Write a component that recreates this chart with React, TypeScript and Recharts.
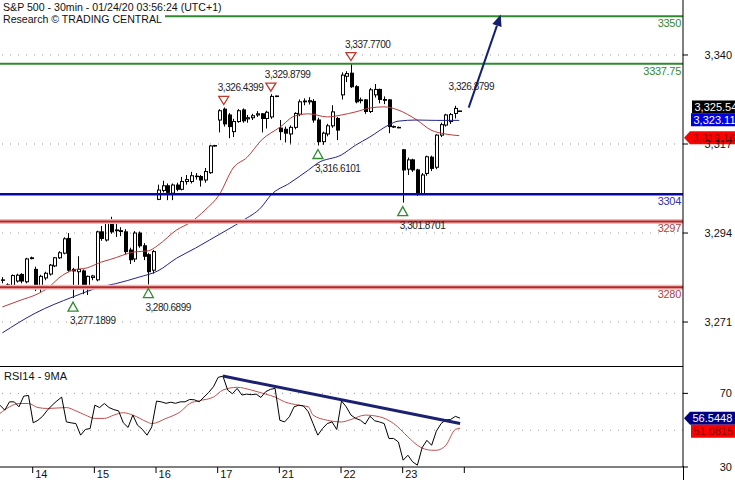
import React from 'react';
import { ComposedChart, Bar, Line, XAxis, YAxis, ReferenceLine, ReferenceDot } from 'recharts';

const FONT = '"Liberation Sans", Arial, sans-serif';

// 30 min candles, 13 Jan (partial) to 23 Jan
const opens = [
  3281.8, 3280.6, 3280.2, 3281.6, 3283.3, 3281.4, 3287.4,
  3284.6, 3279.7, 3282.4, 3283.4, 3285.5, 3287.6, 3288.8, 3292.6, 3284.6, 3284.0, 3284.2, 3280.2, 3282.5,
  3281.9, 3294.3, 3292.2, 3296.9, 3294.8, 3294.6, 3294.3, 3289.6, 3287.3, 3294.0, 3290.7, 3288.4, 3284.4,
  3302.7, 3305.0, 3306.2, 3304.3, 3306.4, 3305.3, 3307.3, 3307.3, 3308.6, 3308.6, 3307.7, 3309.6, 3316.5,
  3323.2, 3326.0, 3324.5, 3320.2, 3322.8, 3325.8, 3323.5, 3323.8, 3324.5, 3324.8, 3323.6, 3324.0, 3329.3,
  3321.1, 3320.8, 3319.6, 3321.3, 3324.7, 3327.9, 3327.9, 3328.0, 3323.2, 3317.6, 3319.6, 3321.7, 3323.6,
  3329.7, 3334.5, 3335.3, 3331.8, 3328.2, 3328.4, 3325.4, 3329.7, 3331.1, 3328.5, 3328.4, 3321.5, 3321.3,
  3315.5, 3310.5, 3312.9, 3310.3, 3304.1, 3309.4, 3313.6, 3311.0, 3319.3, 3321.9, 3322.8, 3324.9, 3325.5,
];
const highs = [
  3282.6, 3281.0, 3283.3, 3283.5, 3283.6, 3287.6, 3287.9,
  3285.3, 3283.2, 3284.0, 3286.0, 3287.8, 3289.3, 3292.9, 3294.0, 3285.0, 3288.0, 3284.6, 3283.0, 3283.2,
  3294.6, 3295.8, 3297.0, 3298.2, 3296.5, 3295.5, 3295.0, 3290.2, 3294.5, 3294.4, 3291.4, 3288.8, 3289.6,
  3306.5, 3307.5, 3306.8, 3306.8, 3307.0, 3308.5, 3309.0, 3309.8, 3309.5, 3309.0, 3310.8, 3316.7, 3316.8,
  3326.0, 3326.4399, 3325.0, 3323.5, 3326.0, 3326.2, 3324.5, 3324.8, 3325.5, 3325.0, 3325.6, 3329.8799, 3329.5,
  3323.2, 3321.5, 3321.8, 3325.2, 3328.5, 3328.8, 3329.1, 3328.6, 3323.8, 3320.2, 3322.2, 3327.0, 3324.0,
  3335.5, 3335.8, 3337.77, 3332.2, 3329.0, 3328.6, 3331.5, 3332.5, 3331.3, 3329.3, 3328.6, 3321.8, 3321.5,
  3315.7, 3313.5, 3313.2, 3310.6, 3309.5, 3314.0, 3314.0, 3319.5, 3322.5, 3324.8, 3325.0, 3326.8799, 3325.6,
];
const lows = [
  3281.0, 3279.7, 3279.8, 3281.2, 3281.0, 3281.0, 3287.2,
  3279.0, 3278.8, 3281.8, 3283.0, 3285.2, 3287.3, 3288.5, 3284.0, 3277.1899, 3280.5, 3278.2, 3278.0, 3281.8,
  3281.5, 3292.0, 3291.8, 3293.8, 3293.0, 3293.2, 3288.5, 3286.0, 3286.5, 3290.2, 3287.0, 3280.6899, 3283.5,
  3302.5, 3304.5, 3302.5, 3302.5, 3304.8, 3305.0, 3306.5, 3306.8, 3307.8, 3306.0, 3307.0, 3309.3, 3316.3,
  3320.0, 3321.5, 3318.5, 3318.8, 3322.5, 3322.5, 3322.5, 3323.2, 3324.0, 3320.0, 3321.0, 3323.5, 3329.1,
  3318.0, 3317.4, 3316.9, 3320.8, 3324.2, 3327.0, 3327.2, 3322.5, 3316.6101, 3316.8, 3319.0, 3321.2, 3318.0,
  3328.5, 3333.0, 3331.5, 3327.5, 3327.5, 3324.8, 3325.0, 3329.0, 3327.5, 3327.3, 3319.8, 3321.2, 3321.1,
  3301.8701, 3309.0, 3309.8, 3303.6, 3303.8, 3308.8, 3310.0, 3310.5, 3318.8, 3321.5, 3322.2, 3323.6, 3325.4,
];
const closes = [
  3281.9, 3280.0, 3283.0, 3283.1, 3281.6, 3287.3, 3287.6,
  3279.7, 3282.8, 3283.6, 3285.7, 3287.6, 3288.9, 3292.5, 3284.4, 3284.2, 3284.6, 3280.0, 3282.8, 3282.9,
  3294.3, 3292.6, 3296.5, 3294.3, 3294.6, 3294.4, 3289.2, 3287.1, 3294.0, 3290.7, 3288.0, 3284.0, 3289.2,
  3305.1, 3306.2, 3304.5, 3306.4, 3305.3, 3307.3, 3307.8, 3308.8, 3308.7, 3307.7, 3309.9, 3316.5, 3316.6,
  3325.6, 3322.2, 3321.5, 3322.8, 3325.6, 3323.0, 3323.8, 3324.3, 3324.8, 3323.6, 3325.2, 3329.3, 3329.4,
  3320.2, 3319.8, 3321.3, 3324.9, 3327.9, 3328.1, 3328.2, 3323.2, 3317.6, 3319.8, 3321.7, 3325.3, 3320.6,
  3334.8, 3335.2, 3331.8, 3327.9, 3328.4, 3325.4, 3331.0, 3331.1, 3328.5, 3328.3, 3321.5, 3321.4, 3321.3,
  3310.3, 3312.9, 3310.3, 3304.1, 3309.0, 3313.7, 3310.7, 3319.3, 3322.0, 3324.5, 3324.6, 3326.2, 3325.54,
];

// moving averages at sample bars
const redMaIdx = [0, 4, 7, 10, 12, 15, 18, 21, 23, 28, 31, 33, 37, 40, 43, 46, 49, 52, 55, 59, 62, 65, 69, 72, 75, 78, 81, 84, 88, 91, 94, 97];
const redMaVals = [3274.9, 3276.7, 3278.0, 3280.1, 3282.4, 3284.4, 3285.0, 3286.5, 3287.2, 3289.1, 3289.4, 3290.8, 3294.8, 3296.8, 3299.9, 3303.8, 3310.8, 3313.6, 3318.0, 3321.4, 3324.2, 3324.8, 3324.0, 3324.5, 3325.3, 3326.3, 3326.6, 3325.8, 3323.2, 3320.6, 3319.6, 3319.16];
const blueMaIdx = [0, 7, 15, 21, 24, 29, 33, 37, 41, 44, 48, 51, 55, 57, 61, 65, 67, 72, 75, 78, 82, 84, 88, 92, 97];
const blueMaVals = [3268.2, 3273.3, 3277.5, 3280.1, 3280.9, 3282.6, 3284.2, 3287.5, 3290.1, 3292.2, 3295.0, 3297.2, 3300.7, 3303.8, 3306.9, 3310.3, 3312.1, 3314.2, 3316.7, 3318.8, 3321.9, 3322.9, 3323.2, 3323.1, 3323.11];

const rsiVals = [
  63.6, 60.9, 65.4, 65.4, 62.7, 68.5, 68.9,
  54.0, 55.4, 57.6, 60.9, 63.6, 65.9, 68.0, 54.5, 54.0, 53.6, 47.3, 50.4, 50.9,
  63.6, 62.3, 64.5, 62.3, 61.2, 60.5, 54.0, 51.5, 58.2, 52.7, 50.5, 47.3, 51.8,
  65.8, 65.4, 64.6, 65.2, 64.6, 65.4, 65.4, 66.7, 66.5, 65.4, 68.0, 70.5, 73.6,
  78.7, 79.4, 71.8, 69.8, 72.7, 69.1, 69.6, 69.3, 69.6, 67.8, 70.9, 72.2, 72.7,
  55.4, 54.5, 57.3, 62.7, 63.6, 63.1, 60.0, 53.6, 47.3, 50.9, 53.6, 54.5, 50.4,
  65.9, 62.7, 58.2, 56.4, 55.4, 53.3, 57.6, 55.1, 54.5, 53.6, 45.5, 45.5, 43.6,
  33.7, 36.4, 32.8, 31.0, 40.5, 44.5, 41.8, 49.5, 53.6, 55.6, 55.8, 57.5, 56.5448,
];
const rsiMaIdx = [0, 2, 4, 6, 8, 10, 14, 16, 18, 20, 22, 24, 26, 28, 31, 32, 35, 38, 40, 42, 45, 47, 50, 53, 56, 58, 60, 63, 65, 66, 69, 72, 74, 77, 80, 83, 86, 88, 91, 92, 94, 96, 97];
const rsiMaVals = [59.1, 62.7, 64.5, 64.5, 62.3, 61.8, 62.3, 60.5, 58.2, 56.4, 56.4, 58.2, 59.5, 58.2, 54.5, 53.6, 56.4, 60.0, 64.5, 66.0, 68.0, 71.8, 73.3, 71.8, 69.6, 68.0, 65.4, 63.6, 62.7, 58.2, 55.4, 54.5, 55.8, 58.2, 57.3, 53.6, 46.4, 41.8, 39.1, 39.1, 41.8, 50.4, 51.0815];

const lowMarkIdx = [15, 31, 67, 85];
const lowMarkVals = [3277.1899, 3280.6899, 3316.6101, 3301.8701];
const highMarkIdx = [47, 57, 74];
const highMarkVals = [3326.4399, 3329.8799, 3337.77];
const lastHighIdx = 96;
const lastHighVal = 3326.8799;

const dayTicks = [7, 20, 33, 46, 59, 72, 85, 98];
const dayLabels = ['14', '15', '16', '17', '21', '22', '23', ''];
const priceTicks = [3271, 3294, 3317, 3340];
const rsiTicks = [30, 70];

const SLOTS = 145;

const rows = Array.from({ length: SLOTS }, (_, i) => ({
  i,
  open: i < opens.length ? opens[i] : null,
  high: i < highs.length ? highs[i] : null,
  low: i < lows.length ? lows[i] : null,
  close: i < closes.length ? closes[i] : null,
  redMa: null as number | null,
  blueMa: null as number | null,
  rsi: i < rsiVals.length ? rsiVals[i] : null,
  rsiMa: null as number | null,
}));
redMaIdx.forEach((k, j) => { rows[k].redMa = redMaVals[j]; });
blueMaIdx.forEach((k, j) => { rows[k].blueMa = blueMaVals[j]; });
rsiMaIdx.forEach((k, j) => { rows[k].rsiMa = rsiMaVals[j]; });

const fmt = (v: number, d: number) =>
  v.toLocaleString('en-US', { minimumFractionDigits: d, maximumFractionDigits: d });

function Candle(props: any) {
  const { x, y, width, height, payload } = props;
  if (!payload || payload.open == null) return <g />;
  const { open, high, low, close } = payload;
  const top0 = Math.min(y, y + height);
  const h = Math.abs(height);
  const k = high > low ? h / (high - low) : 0;
  const py = (v: number) => top0 + (high - v) * k;
  const px = Math.round(x + width / 2);
  const up = close >= open;
  const bt = py(Math.max(open, close));
  const bb = py(Math.min(open, close));
  return (
    <g>
      <line x1={px + 0.5} x2={px + 0.5} y1={top0} y2={top0 + h} stroke="#000" strokeWidth={1} />
      <rect x={px - 0.5} y={bt} width={3} height={Math.max(bb - bt, 0.5)} fill={up ? '#fff' : '#000'} stroke="#000" strokeWidth={1} />
    </g>
  );
}

const markText = { fontSize: 10, fontFamily: FONT, fill: '#222', letterSpacing: -0.45 };

function LowMark(props: any) {
  const { cx, cy, text } = props;
  return (
    <g>
      <polygon points={`${cx},${cy + 4} ${cx - 5},${cy + 13} ${cx + 5},${cy + 13}`} fill="#fff" stroke="#2e8b2e" strokeWidth={1.3} />
      <text x={cx - 3} y={cy + 26} {...markText}>{text}</text>
    </g>
  );
}

function HighMark(props: any) {
  const { cx, cy, text, tri } = props;
  return (
    <g>
      {tri && (
        <polygon points={`${cx - 5},${cy - 11} ${cx + 5},${cy - 11} ${cx},${cy - 3}`} fill="#fff" stroke="#c0392b" strokeWidth={1.3} />
      )}
      <text x={cx - 6} y={cy - 16} {...markText}>{text}</text>
    </g>
  );
}

function ArrowHead(props: any) {
  const { cx, cy } = props;
  return (
    <polygon points={`${cx + 3.8},${cy - 11} ${cx + 4.6},${cy + 1.5} ${cx - 4.6},${cy - 1.5}`} fill="#14206e" />
  );
}

function LevelLabel(props: any) {
  const { viewBox, text, color } = props;
  return (
    <text x={viewBox.x + viewBox.width - 2} y={viewBox.y + 11} textAnchor="end" fontSize={11} fontFamily={FONT} fill={color} letterSpacing={-0.3}>
      {text}
    </text>
  );
}

function Tag(props: any) {
  const { viewBox, text, bg, color, dy, arrow, left } = props;
  const x0 = viewBox.x + viewBox.width;
  const cy = viewBox.y + dy;
  const bl = x0 + left;
  const hh = 6.5;
  const d = arrow
    ? `M${x0 + 1},${cy} L${bl},${cy - hh} L${x0 + 60},${cy - hh} L${x0 + 60},${cy + hh} L${bl},${cy + hh} Z`
    : `M${bl},${cy - hh} L${x0 + 60},${cy - hh} L${x0 + 60},${cy + hh} L${bl},${cy + hh} Z`;
  return (
    <g>
      <path d={d} fill={bg} />
      <text x={bl + 2.5} y={cy + 4} fontSize={11} fontFamily={FONT} fill={color}>{text}</text>
    </g>
  );
}

function PriceTick(props: any) {
  const { x, y, payload } = props;
  return (
    <text x={x + 42} y={y + 4} textAnchor="end" fontSize={11} fontFamily={FONT} fill="#111">
      {payload.value.toLocaleString('en-US')}
    </text>
  );
}

function DayTick(props: any) {
  const { x, y, index } = props;
  return (
    <g>
      <line x1={x - 0.5} x2={x - 0.5} y1={y} y2={y + 6} stroke="#000" />
      <text x={x + 2} y={y + 11} fontSize={11} fontFamily={FONT} fill="#111">{dayLabels[index]}</text>
    </g>
  );
}

const GREEN = '#2f8a2f';
const NAVY = '#0808a8';
const DARKRED = '#b52828';
const HALO = '#f3b8b8';

export default function App() {
  return (
    <div style={{ position: 'relative', width: 735, height: 480, background: '#fff', overflow: 'hidden' }}>
      <style>{'body{margin:0}'}</style>

      <div style={{ position: 'absolute', left: 0, top: 0 }}>
        <ComposedChart width={735} height={366} data={rows} margin={{ top: 0, right: 0, left: 0, bottom: 0 }}>
          <XAxis dataKey="i" hide />
          <YAxis
            orientation="right"
            width={52}
            domain={[3259.64, 3354.21]}
            allowDataOverflow
            ticks={priceTicks}
            interval={0}
            tickSize={5}
            tick={<PriceTick />}
            tickLine={{ stroke: '#000' }}
            axisLine={{ stroke: '#000' }}
          />
          {priceTicks.map((v) => (
            <ReferenceLine key={'g' + v} y={v} stroke="#9a9a9a" strokeDasharray="1 7" />
          ))}
          <Bar dataKey={(d: any) => (d.low == null ? null : [d.low, d.high])} shape={<Candle />} activeBar={false} isAnimationActive={false} />
          <Line dataKey="redMa" type="monotone" stroke="#b83a3a" strokeWidth={1} dot={false} activeDot={false} connectNulls isAnimationActive={false} />
          <Line dataKey="blueMa" type="monotone" stroke="#22228a" strokeWidth={1} dot={false} activeDot={false} connectNulls isAnimationActive={false} />

          <ReferenceLine y={3350} stroke={GREEN} strokeWidth={2} label={(p: any) => <LevelLabel {...p} text="3350" color={GREEN} />} />
          <ReferenceLine y={3337.75} stroke={GREEN} strokeWidth={2} label={(p: any) => <LevelLabel {...p} text="3337.75" color={GREEN} />} />
          <ReferenceLine y={3304} stroke={NAVY} strokeWidth={2.5} label={(p: any) => <LevelLabel {...p} text="3304" color="#3333aa" />} />
          <ReferenceLine y={3297} stroke={HALO} strokeWidth={5} />
          <ReferenceLine y={3297} stroke={DARKRED} strokeWidth={2} label={(p: any) => <LevelLabel {...p} text="3297" color="#b04040" />} />
          <ReferenceLine y={3280} stroke={HALO} strokeWidth={5} />
          <ReferenceLine y={3280} stroke={DARKRED} strokeWidth={2} label={(p: any) => <LevelLabel {...p} text="3280" color="#b04040" />} />

          {lowMarkIdx.map((k, j) => (
            <ReferenceDot key={'l' + k} x={k} y={lowMarkVals[j]} shape={(p: any) => <LowMark {...p} text={fmt(lowMarkVals[j], 4)} />} />
          ))}
          {highMarkIdx.map((k, j) => (
            <ReferenceDot key={'h' + k} x={k} y={highMarkVals[j]} shape={(p: any) => <HighMark {...p} tri text={fmt(highMarkVals[j], 4)} />} />
          ))}
          <ReferenceDot x={lastHighIdx} y={lastHighVal} shape={(p: any) => <HighMark {...p} tri={false} text={fmt(lastHighVal, 4)} />} />

          <ReferenceLine segment={[{ x: 99, y: 3326.4 }, { x: 105, y: 3347.6 }]} stroke="#14206e" strokeWidth={2} />
          <ReferenceDot x={105} y={3347.6} shape={(p: any) => <ArrowHead {...p} />} />

          <ReferenceLine y={closes[closes.length - 1]} stroke="none" label={(p: any) => <Tag {...p} text={fmt(closes[closes.length - 1], 2)} bg="#000" color="#fff" dy={-4} left={9} />} />
          <ReferenceLine y={blueMaVals[blueMaVals.length - 1]} stroke="none" label={(p: any) => <Tag {...p} text={fmt(blueMaVals[blueMaVals.length - 1], 2)} bg="#0000e0" color="#fff" dy={-0.5} left={8} />} />
          <ReferenceLine y={redMaVals[redMaVals.length - 1]} stroke="none" label={(p: any) => <Tag {...p} text={fmt(redMaVals[redMaVals.length - 1], 2)} bg="#ff0000" color="#8a0000" dy={2} left={7} arrow />} />
        </ComposedChart>
      </div>

      <div style={{ position: 'absolute', left: 0, top: 366 }}>
        <ComposedChart width={735} height={114} data={rows} margin={{ top: 0, right: 0, left: 0, bottom: 0 }}>
          <XAxis
            dataKey="i"
            height={13}
            ticks={dayTicks}
            interval={0}
            tickSize={0}
            tickMargin={0}
            tick={<DayTick />}
            tickLine={false}
            axisLine={{ stroke: '#000' }}
          />
          <YAxis
            orientation="right"
            width={52}
            domain={[30, 84.88]}
            allowDataOverflow
            ticks={rsiTicks}
            interval={0}
            tickSize={5}
            tick={<PriceTick />}
            tickLine={{ stroke: '#000' }}
            axisLine={{ stroke: '#000' }}
          />
          <ReferenceLine y={70} stroke="#9a9a9a" strokeDasharray="1 7" />
          <ReferenceLine y={50} stroke="#9a9a9a" strokeDasharray="1 7" />
          <Line dataKey="rsiMa" type="monotone" stroke="#c0504d" strokeWidth={1} dot={false} activeDot={false} connectNulls isAnimationActive={false} />
          <Line dataKey="rsi" type="linear" stroke="#000" strokeWidth={1} dot={false} activeDot={false} isAnimationActive={false} />
          <ReferenceLine segment={[{ x: 47, y: 79.4 }, { x: 97, y: 53.6 }]} stroke="#1c2070" strokeWidth={3} />
          <ReferenceLine y={rsiVals[rsiVals.length - 1]} stroke="none" label={(p: any) => <Tag {...p} text={fmt(rsiVals[rsiVals.length - 1], 4)} bg="#000080" color="#fff" dy={0} left={7} arrow />} />
          <ReferenceLine y={rsiMaVals[rsiMaVals.length - 1]} stroke="none" label={(p: any) => <Tag {...p} text={fmt(rsiMaVals[rsiMaVals.length - 1], 4)} bg="#ff0000" color="#8a0000" dy={3} left={8} />} />
        </ComposedChart>
      </div>

      <div style={{ position: 'absolute', left: 0, top: 366, width: 683, height: 1, background: '#000' }} />
      <div style={{ position: 'absolute', left: 683, top: 466, width: 1, height: 14, background: '#000' }} />

      <div style={{ position: 'absolute', left: 0, top: 1, fontFamily: FONT, fontSize: 10.6, lineHeight: '12px', color: '#111' }}>
        <div><span style={{ background: '#fff', paddingLeft: 3, paddingRight: 2 }}>S&amp;P 500 - 30min - 01/24/20 03:56:24 (UTC+1)</span></div>
        <div><span style={{ background: '#fff', paddingLeft: 3, paddingRight: 3 }}>Research © TRADING CENTRAL</span></div>
      </div>
      <div style={{ position: 'absolute', left: 4, top: 370, fontFamily: FONT, fontSize: 11, lineHeight: '12px', color: '#111' }}>
        RSI14 - 9MA
      </div>
    </div>
  );
}
